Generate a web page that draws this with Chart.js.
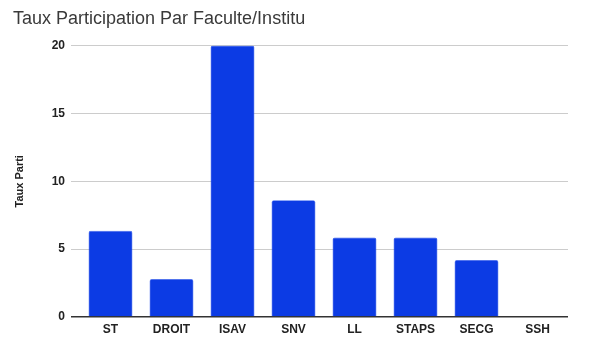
<!DOCTYPE html>
<html>
<head>
<meta charset="utf-8">
<script src="https://cdn.jsdelivr.net/npm/chart.js@4/dist/chart.umd.min.js"></script>
<style>
html,body{margin:0;padding:0;background:#fff;}
#wrap{width:593px;height:344px;position:relative;}
</style>
</head>
<body>
<div id="wrap"><canvas id="c" width="593" height="344"></canvas></div>
<script>
const categories = ["ST", "DROIT", "ISAV", "SNV", "LL", "STAPS", "SECG", "SSH"];
const tauxValues = [6.35, 2.8, 20, 8.6, 5.85, 5.85, 4.2, 0];
const yTicks = [0, 5, 10, 15, 20];

new Chart(document.getElementById('c'), {
  type: 'bar',
  data: {
    labels: categories,
    datasets: [{
      label: 'Taux Parti',
      data: tauxValues,
      backgroundColor: '#0c3be4',
      borderColor: '#3d66f0',
      borderWidth: 0.6,
      borderRadius: 2,
      borderSkipped: 'bottom'
    }]
  },
  options: {
    responsive: false,
    animation: false,
    layout: { padding: { left: 13, right: 25, top: 0, bottom: 0 } },
    plugins: {
      legend: { display: false },
      tooltip: { enabled: false },
      title: {
        display: true,
        text: 'Taux Participation Par Faculte/Institu',
        align: 'start',
        color: '#3a3a3a',
        font: { family: 'Liberation Sans, Arial, sans-serif', size: 18, weight: 'normal' },
        padding: { top: 8, bottom: 16 }
      }
    },
    scales: {
      x: {
        grid: { display: false, drawTicks: false },
        border: { display: false },
        ticks: {
          color: '#222',
          font: { family: 'Liberation Sans, Arial, sans-serif', size: 12, weight: 'bold' },
          padding: 5,
          maxRotation: 0
        },
        afterFit: s => { s.height = 27; }
      },
      y: {
        min: 0, max: 20,
        afterBuildTicks: s => { s.ticks = yTicks.map(v => ({ value: v })); },
        grid: {
          color: c => (c.tick && c.tick.value === 0) ? '#333' : '#cccccc',
          lineWidth: c => (c.tick && c.tick.value === 0) ? 1.5 : 1,
          tickLength: 9,
          drawTicks: true
        },
        border: { display: false },
        ticks: {
          color: '#222',
          font: { family: 'Liberation Sans, Arial, sans-serif', size: 12, weight: 'bold' },
          padding: 6
        },
        title: {
          display: true,
          text: 'Taux Parti',
          color: '#222',
          font: { family: 'Liberation Sans, Arial, sans-serif', size: 11, weight: 'bold' },
          padding: { top: 0, bottom: 0 }
        },
        afterFit: s => { s.width = 67; }
      }
    }
  }
});
</script>
</body>
</html>
